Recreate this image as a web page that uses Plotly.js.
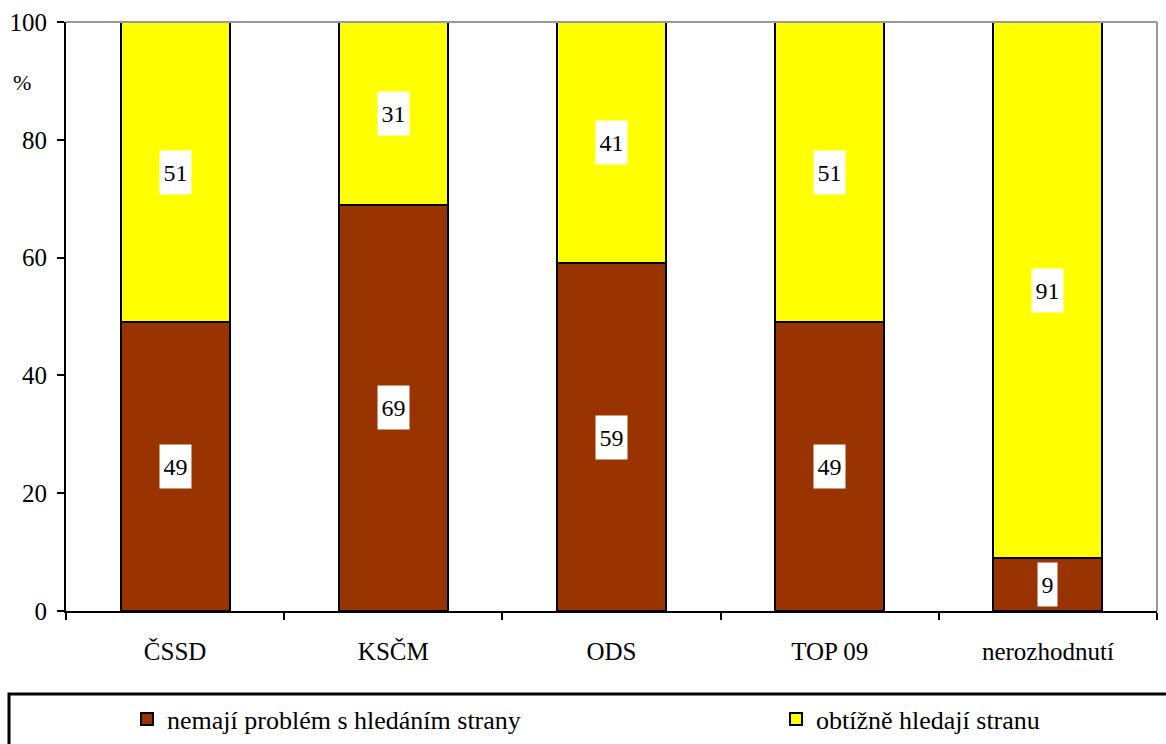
<!DOCTYPE html>
<html>
<head>
<meta charset="utf-8">
<script src="https://cdn.plot.ly/plotly-3.0.1.min.js"></script>
<style>html,body{margin:0;padding:0;background:#fff;}#chart{width:1166px;height:744px;}</style>
</head>
<body>
<div id="chart"></div>
<script>
const categories = ["ČSSD", "KSČM", "ODS", "TOP 09", "nerozhodnutí"];
const noProblem = [49, 69, 59, 49, 9];
const hardToFind = [51, 31, 41, 51, 91];
const seriesNames = ["nemají problém s hledáním strany", "obtížně hledají stranu"];
const seriesColors = ["#993300", "#FFFF00"];

const font = "Liberation Serif";
const PL = 66, PR = 1157, PT = 22, PB = 611;
const px2x = p => (p - PL) / (PR - PL);
const px2y = p => (PB - p) / (PB - PT);

const traces = [
  {type: "bar", name: seriesNames[0], x: categories, y: noProblem, legend: "legend",
   marker: {color: seriesColors[0], line: {color: "#000", width: 2}}, hoverinfo: "none"},
  {type: "bar", name: seriesNames[1], x: categories, y: hardToFind, legend: "legend2",
   marker: {color: seriesColors[1], line: {color: "#000", width: 2}}, hoverinfo: "none"}
];

const axFont = {family: font, size: 25, color: "#000"};
const lblFont = {family: font, size: 24, color: "#000"};
const legFont = {family: font, size: 26, color: "#000"};
const annotations = [];
categories.forEach((c, i) => {
  annotations.push({x: c, y: noProblem[i] / 2, xref: "x", yref: "y", text: String(noProblem[i]),
    showarrow: false, bgcolor: "#fff", width: noProblem[i] < 10 ? 19 : 31, height: 43, borderpad: 0,
    font: lblFont});
  annotations.push({x: c, y: noProblem[i] + hardToFind[i] / 2, xref: "x", yref: "y", text: String(hardToFind[i]),
    showarrow: false, bgcolor: "#fff", width: 31, height: 43, borderpad: 0, font: lblFont});
});
annotations.push({x: px2x(22), y: px2y(83), xref: "paper", yref: "paper", text: "%", showarrow: false,
  xanchor: "center", yanchor: "middle", font: {family: font, size: 22, color: "#000"}});

const legendCommon = {orientation: "h", yanchor: "middle", xanchor: "left", y: px2y(719),
  bgcolor: "rgba(0,0,0,0)", font: legFont, itemwidth: 30};

const layout = {
  width: 1166, height: 744,
  margin: {l: PL, r: 1166 - PR, t: PT, b: 744 - PB, autoexpand: false},
  paper_bgcolor: "#fff", plot_bgcolor: "#fff",
  barmode: "stack", bargap: 0.5,
  font: axFont,
  showlegend: true,
  legend: Object.assign({}, legendCommon, {x: px2x(127)}),
  legend2: Object.assign({}, legendCommon, {x: px2x(776)}),
  xaxis: {type: "category", showline: true, linecolor: "#000", linewidth: 2,
    ticks: "outside", tickson: "boundaries", ticklen: 7, tickwidth: 2, tickcolor: "#000",
    ticklabelstandoff: 17, showgrid: false, zeroline: false, fixedrange: true, tickfont: axFont},
  yaxis: {range: [0, 100], dtick: 20, showline: true, linecolor: "#000", linewidth: 2,
    ticks: "outside", ticklen: 7, tickwidth: 2, tickcolor: "#000", showgrid: false, zeroline: false,
    ticklabelstandoff: 5, fixedrange: true, tickfont: axFont},
  shapes: [
    {type: "line", xref: "paper", yref: "paper", x0: 0, x1: 1, y0: 1, y1: 1, line: {color: "#999", width: 2}},
    {type: "line", xref: "paper", yref: "paper", x0: 1, x1: 1, y0: 0, y1: 1, line: {color: "#999", width: 2}},
    {type: "rect", xref: "paper", yref: "paper",
     x0: px2x(9), x1: px2x(1180), y0: px2y(760), y1: px2y(694),
     line: {color: "#000", width: 3}, fillcolor: "rgba(0,0,0,0)", layer: "below"}
  ],
  annotations: annotations
};

Plotly.newPlot("chart", traces, layout, {displayModeBar: false, staticPlot: true});
</script>
</body>
</html>
